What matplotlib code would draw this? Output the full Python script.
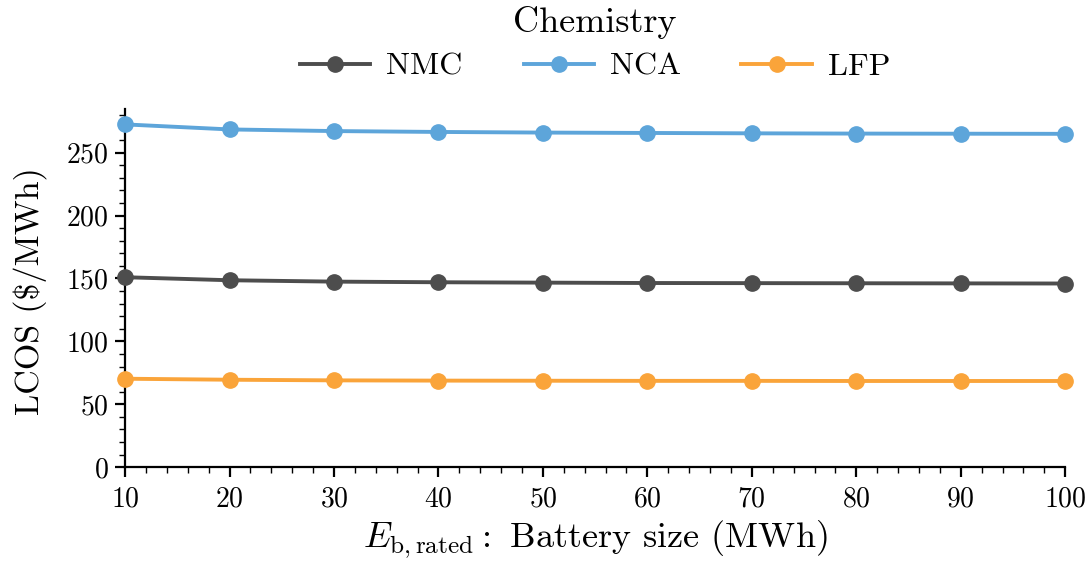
import matplotlib
matplotlib.use("Agg")
import matplotlib.pyplot as plt
from matplotlib.ticker import MultipleLocator

plt.rcParams["font.family"] = "serif"
plt.rcParams["font.serif"] = ["cmr10"]
plt.rcParams["mathtext.fontset"] = "cm"
plt.rcParams["axes.formatter.use_mathtext"] = True

battery_size = [10, 20, 30, 40, 50, 60, 70, 80, 90, 100]
lcos_nmc = [151.0, 148.6, 147.5, 147.0, 146.7, 146.4, 146.3, 146.2, 146.1, 146.0]
lcos_nca = [272.5, 268.5, 267.2, 266.5, 266.0, 265.7, 265.4, 265.2, 265.1, 265.0]
lcos_lfp = [70.3, 69.5, 69.0, 68.8, 68.7, 68.6, 68.6, 68.5, 68.5, 68.5]

series = [("NMC", lcos_nmc, "#4d4d4d"),
          ("NCA", lcos_nca, "#5da5da"),
          ("LFP", lcos_lfp, "#faa43a")]

fig = plt.figure(figsize=(10.92, 5.69), dpi=100)
ax = fig.add_axes([0.1145, 0.179, 0.861, 0.63])

for name, vals, col in series:
    ax.plot(battery_size, vals, color=col, lw=2.8, marker="o", ms=11,
            label=name, clip_on=False, zorder=3)

ax.set_xlim(10, 100)
ax.set_ylim(0, 285)
ax.xaxis.set_major_locator(MultipleLocator(10))
ax.xaxis.set_minor_locator(MultipleLocator(2))
ax.yaxis.set_major_locator(MultipleLocator(50))
ax.yaxis.set_minor_locator(MultipleLocator(10))
for s in ("top", "right"):
    ax.spines[s].set_visible(False)
for s in ("left", "bottom"):
    ax.spines[s].set_linewidth(1.6)
ax.tick_params(which="major", length=7, width=1.6, labelsize=20, direction="out")
ax.tick_params(which="minor", length=4, width=1.0, direction="out")
ax.tick_params(axis="x", pad=7)
ax.tick_params(axis="y", pad=5)

ax.set_xlabel(r"$E_{\mathrm{b,rated}}:$ Battery size (MWh)", fontsize=26, labelpad=4)
ax.set_ylabel("LCOS (\\$/MWh)", fontsize=24.5, labelpad=10)
ax.yaxis.set_label_coords(-0.083, 0.49)

leg = fig.legend(loc="upper center", bbox_to_anchor=(0.545, 0.99), ncol=3,
                 frameon=False, title="Chemistry", fontsize=23,
                 title_fontsize=26, handlelength=2.2, columnspacing=1.9,
                 handletextpad=0.5, borderaxespad=0.0, borderpad=0.0,
                 labelspacing=0.3)
leg._legend_box.sep = 10

fig.savefig("out.png", dpi=100)
